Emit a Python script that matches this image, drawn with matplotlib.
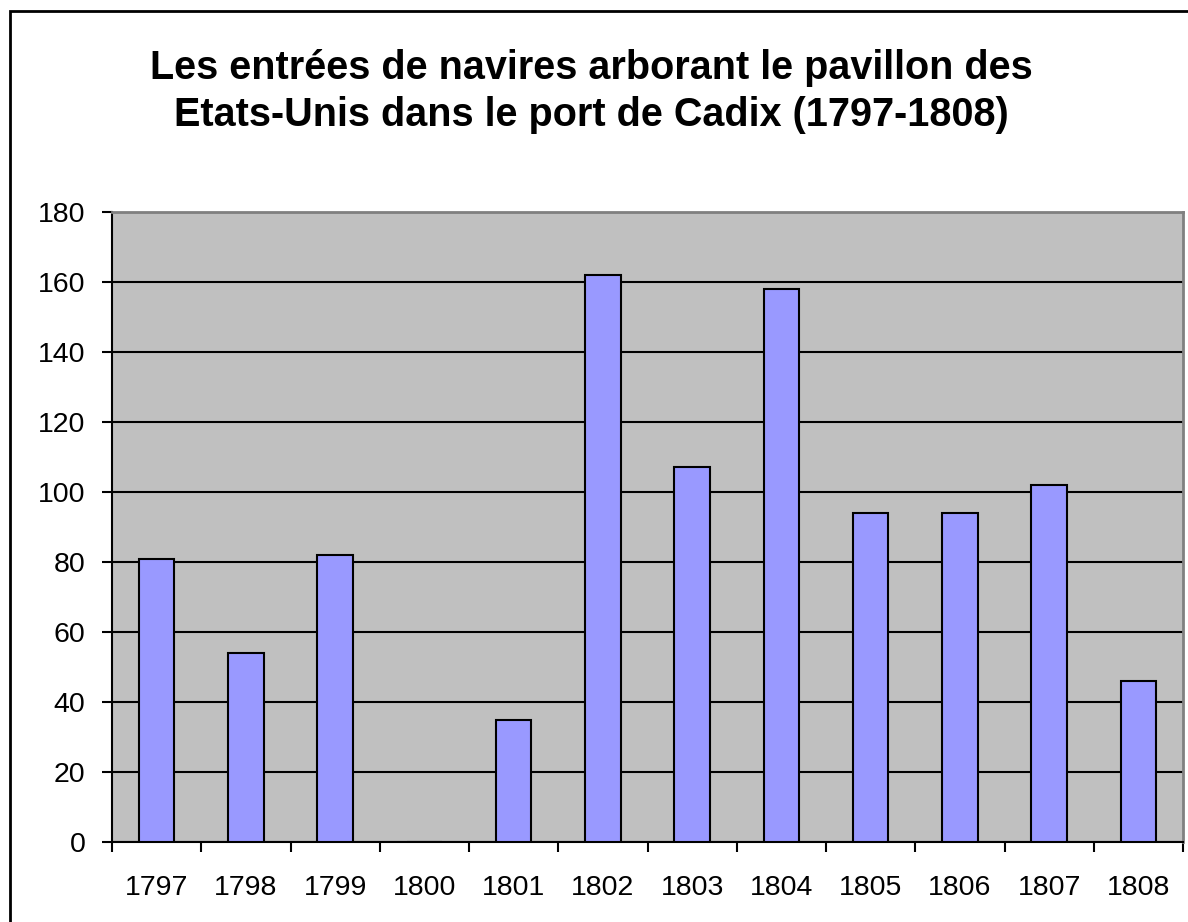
import matplotlib.pyplot as plt
from matplotlib.patches import Rectangle

years = ["1797", "1798", "1799", "1800", "1801", "1802",
         "1803", "1804", "1805", "1806", "1807", "1808"]
ships = [81, 54, 82, 0, 35, 162, 107, 158, 94, 94, 102, 46]

title = "Les entrées de navires arborant le pavillon des\nEtats-Unis dans le port de Cadix (1797-1808)"

plt.rcParams['font.family'] = ['Liberation Sans', 'DejaVu Sans']

fig = plt.figure(figsize=(11.88, 9.22), dpi=100)
ax = fig.add_axes([112 / 1188, 80 / 922, (1183 - 112) / 1188, (842 - 212) / 922])

# outer chart border (only left/top visible in the reference)
fig.patches.append(Rectangle((10 / 1188, -0.1), 1.2, (922 - 11) / 922 + 0.1,
                             transform=fig.transFigure, fill=False,
                             edgecolor='black', linewidth=2))

ax.set_facecolor('#C0C0C0')
x = list(range(len(years)))
ax.bar(x, ships, width=0.4, color='#9999FF', edgecolor='black', linewidth=1.5, zorder=3)

ax.set_ylim(0, 180)
ax.set_xlim(-0.5, len(years) - 0.5)
ax.set_yticks(range(0, 181, 20))
ax.yaxis.grid(True, color='black', linewidth=1.5, zorder=1)
ax.set_axisbelow(True)

ax.set_xticks(x)
ax.set_xticklabels(years)
ax.set_xticks([i - 0.5 for i in range(len(years) + 1)], minor=True)
ax.tick_params(axis='x', which='major', length=0, pad=24, labelsize=20.5)
ax.tick_params(axis='x', which='minor', length=7, width=1.5, direction='out')
ax.tick_params(axis='y', length=7, width=1.5, pad=12, labelsize=20.5)

for s in ['left', 'bottom']:
    ax.spines[s].set_color('black')
    ax.spines[s].set_linewidth(1.5)
for s in ['top', 'right']:
    ax.spines[s].set_color('#808080')
    ax.spines[s].set_linewidth(2)

fig.text(591 / 1188, 1 - 49 / 922, title, ha='center', va='top',
         fontsize=28.5, fontweight='bold', linespacing=1.3)

fig.savefig('out.png', dpi=100)
